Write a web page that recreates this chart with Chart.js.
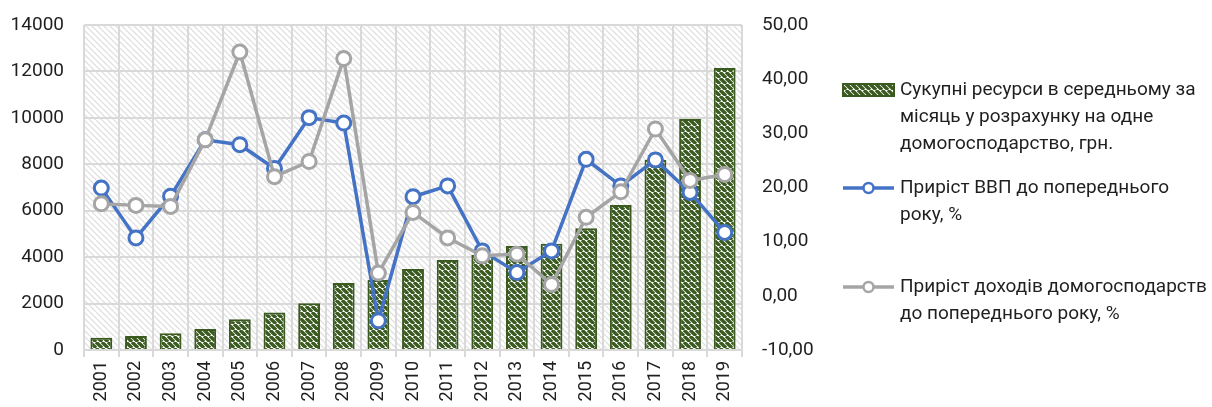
<!DOCTYPE html>
<html>
<head>
<meta charset="utf-8">
<script src="https://cdn.jsdelivr.net/npm/chart.js@4/dist/chart.umd.min.js"></script>
<style>
  html, body { margin: 0; padding: 0; background: #fff; }
  #wrap { width: 1212px; height: 407px; }
</style>
</head>
<body>
<div id="wrap"><canvas id="chart" width="1212" height="407"></canvas></div>
<script>
// Data
const years = ['2001', '2002', '2003', '2004', '2005', '2006', '2007', '2008', '2009', '2010',
               '2011', '2012', '2013', '2014', '2015', '2016', '2017', '2018', '2019'];
const resources = [530, 600, 720, 905, 1320, 1620, 2010, 2890, 3015, 3490,
                   3880, 4100, 4480, 4580, 5250, 6250, 8200, 9950, 12150];
const gdpGrowth = [19.9, 10.7, 18.4, 28.8, 27.9, 23.5, 32.9, 31.9, -4.6, 18.3,
                   20.3, 8.3, 4.3, 8.3, 25.2, 20.3, 25.1, 19.1, 11.7];
const incomeGrowth = [17.0, 16.7, 16.5, 28.8, 45.0, 22.0, 24.8, 43.8, 4.2, 15.4,
                      10.7, 7.4, 7.7, 2.1, 14.5, 19.2, 30.8, 21.3, 22.4];
const leftTicks = [0, 2000, 4000, 6000, 8000, 10000, 12000, 14000];
const rightTicks = [-10, 0, 10, 20, 30, 40, 50];

const legendResources = ['Сукупні ресурси в середньому за', 'місяць у розрахунку на одне', 'домогосподарство, грн.'];
const legendGdp = ['Приріст ВВП до попереднього', 'року, %'];
const legendIncome = ['Приріст доходів домогосподарств', 'до попереднього року, %'];

const FONT = 'Roboto, "Noto Sans", sans-serif';
const TEXT = '#1f1f1f';
const GREEN = '#3a5a20';
const BLUE = '#4472c4';
const GREY = '#a5a5a5';

// diagonal "\" hatch patterns
function hatch(bg, fg, size, lw) {
  const c = document.createElement('canvas');
  c.width = size; c.height = size;
  const g = c.getContext('2d');
  g.fillStyle = bg;
  g.fillRect(0, 0, size, size);
  g.strokeStyle = fg;
  g.lineWidth = lw;
  g.beginPath();
  for (const off of [-size, 0, size]) {
    g.moveTo(off, 0);
    g.lineTo(off + size, size);
  }
  g.stroke();
  return g.createPattern(c, 'repeat');
}

const ctx = document.getElementById('chart').getContext('2d');
const barFill = hatch('#ffffff', GREEN, 6, 3.4);
const plotFill = hatch('#ffffff', '#e0e0e0', 6, 1.3);

const plotBackground = {
  id: 'plotBackground',
  beforeDraw(chart) {
    const a = chart.chartArea;
    const c = chart.ctx;
    c.save();
    c.fillStyle = plotFill;
    c.fillRect(a.left, a.top, a.right - a.left, a.bottom - a.top);
    c.restore();
  }
};

// legend at the right with wrapped text
const sideLegend = {
  id: 'sideLegend',
  afterDraw(chart) {
    const c = chart.ctx;
    const x0 = 843, x1 = 894, tx = 900, lh = 27;
    c.save();
    c.font = '19px ' + FONT;
    c.textBaseline = 'middle';
    c.textAlign = 'left';

    // bar swatch
    c.fillStyle = barFill;
    c.fillRect(x0, 84, x1 - x0, 12);
    c.strokeStyle = GREEN;
    c.lineWidth = 2;
    c.strokeRect(x0, 84, x1 - x0, 12);
    c.fillStyle = TEXT;
    legendResources.forEach((t, i) => c.fillText(t, tx, 90 + i * lh));

    const lineItem = (y, col, lines) => {
      c.strokeStyle = col;
      c.lineWidth = 3.5;
      c.beginPath();
      c.moveTo(x0, y); c.lineTo(x1, y);
      c.stroke();
      c.beginPath();
      c.arc((x0 + x1) / 2, y, 5, 0, Math.PI * 2);
      c.fillStyle = '#fff';
      c.fill();
      c.lineWidth = 2.5;
      c.stroke();
      c.fillStyle = TEXT;
      lines.forEach((t, i) => c.fillText(t, tx, y + i * lh));
    };
    lineItem(188, BLUE, legendGdp);
    lineItem(287, GREY, legendIncome);
    c.restore();
  }
};

new Chart(ctx, {
  type: 'bar',
  data: {
    labels: years,
    datasets: [{
      type: 'line',
      label: legendIncome.join(' '),
      data: incomeGrowth,
      yAxisID: 'y1',
      borderColor: GREY,
      borderWidth: 3.5,
      pointRadius: 7,
      pointBorderWidth: 3,
      pointBackgroundColor: '#fff',
      pointBorderColor: GREY,
      tension: 0,
      order: 0
    }, {
      type: 'line',
      label: legendGdp.join(' '),
      data: gdpGrowth,
      yAxisID: 'y1',
      borderColor: BLUE,
      borderWidth: 3.5,
      pointRadius: 7,
      pointBorderWidth: 3,
      pointBackgroundColor: '#fff',
      pointBorderColor: BLUE,
      tension: 0,
      order: 1
    }, {
      label: legendResources.join(' '),
      data: resources,
      yAxisID: 'y',
      backgroundColor: barFill,
      borderColor: GREEN,
      borderWidth: 2,
      categoryPercentage: 1,
      barPercentage: 0.63,
      order: 2
    }]
  },
  options: {
    responsive: false,
    animation: false,
    layout: { padding: { left: 0, top: 25, right: 390, bottom: 0 } },
    plugins: {
      legend: { display: false },
      tooltip: { enabled: false }
    },
    scales: {
      x: {
        grid: { color: '#d9d9d9', lineWidth: 2, offset: true, tickLength: 7 },
        border: { color: '#d9d9d9', width: 2 },
        ticks: {
          color: TEXT, font: { family: FONT, size: 18 },
          minRotation: 90, maxRotation: 90, padding: 4
        },
        afterFit(s) { s.height = 57; }
      },
      y: {
        position: 'left',
        min: 0, max: 14000,
        afterBuildTicks(s) { s.ticks = leftTicks.map(v => ({ value: v })); },
        grid: { color: '#d9d9d9', lineWidth: 2, drawTicks: false },
        border: { display: false },
        ticks: {
          color: TEXT, font: { family: FONT, size: 19 }, padding: 20,
          callback: v => String(v)
        },
        afterFit(s) { s.width = 84; s.paddingTop = 0; s.paddingBottom = 0; }
      },
      y1: {
        position: 'right',
        min: -10, max: 50,
        afterBuildTicks(s) { s.ticks = rightTicks.map(v => ({ value: v })); },
        grid: { display: false, drawTicks: false },
        border: { display: false },
        ticks: {
          color: TEXT, font: { family: FONT, size: 19 }, padding: 20,
          callback: v => v.toFixed(2).replace('.', ',')
        },
        afterFit(s) { s.width = 80; s.paddingTop = 0; s.paddingBottom = 0; }
      }
    }
  },
  plugins: [plotBackground, sideLegend]
});
</script>
</body>
</html>
